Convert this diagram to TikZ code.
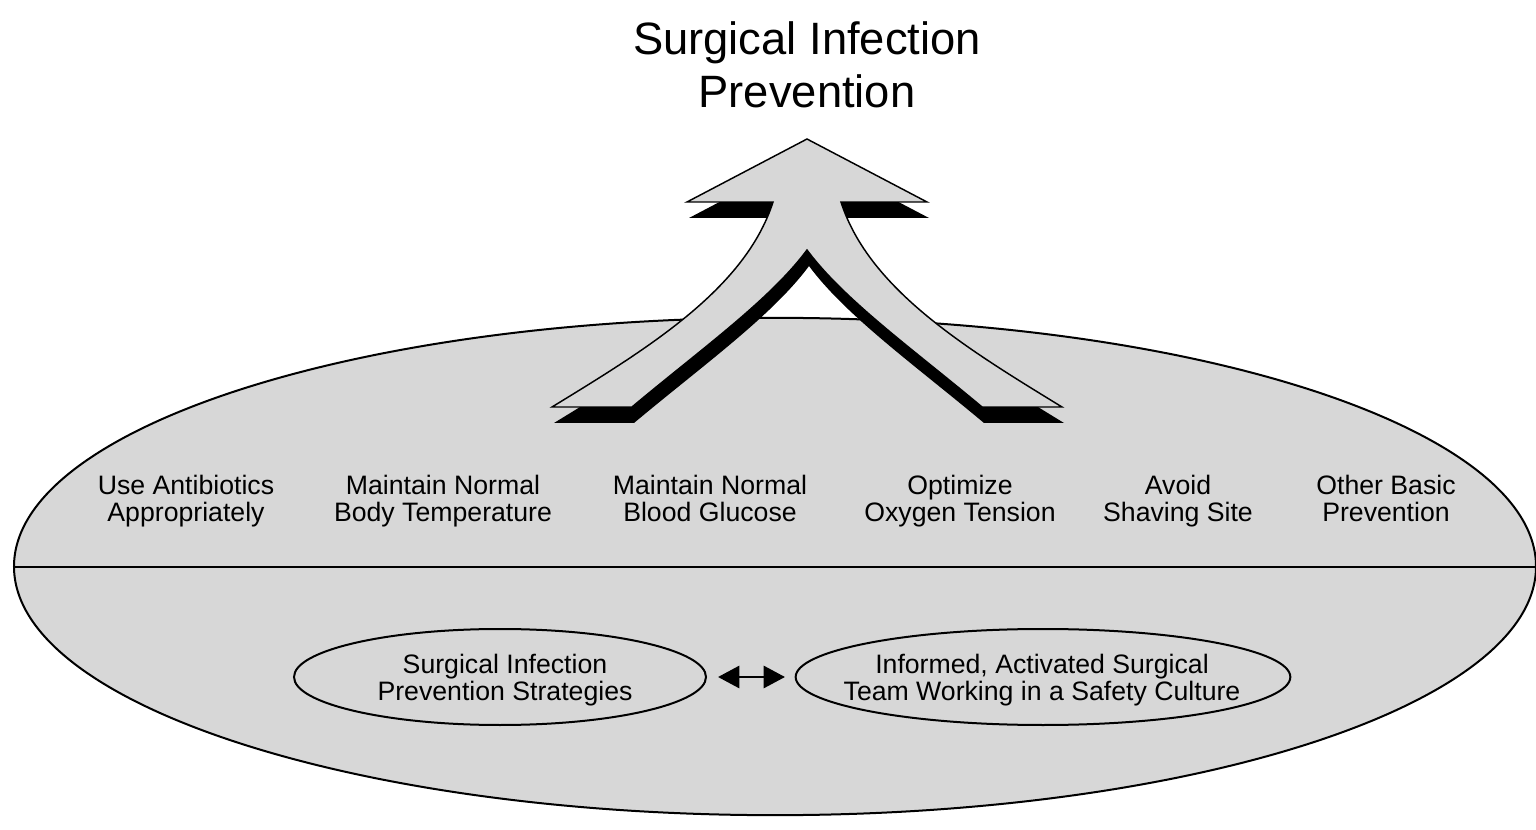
\documentclass[tikz,border=0pt]{standalone}
\usepackage{fontspec}
\setmainfont{Liberation Sans}
\usetikzlibrary{shapes.geometric, arrows.meta, positioning, shadows}

\definecolor{basegray}{HTML}{D7D7D7}

\begin{document}
\begin{tikzpicture}[
    x=0.75pt, y=-0.75pt,
    oval/.style={ellipse, draw=black, line width=1.5pt, fill=basegray, inner sep=0pt, outer sep=0pt},
    title/.style={align=center, font=\fontsize{34}{40}\selectfont},
    label_text/.style={align=center, font=\fontsize{20}{20.25}\selectfont,
        execute at begin node=\strut, execute at end node=\strut},
    chevron/.style={draw=black, line width=1.1pt, fill=basegray, line join=miter,
        drop shadow={shadow xshift=1.5pt, shadow yshift=-12pt, fill=black, opacity=1}},
    link/.style={{Triangle[length=16pt, width=16.5pt]}-{Triangle[length=16pt, width=16.5pt]}, line width=2.2pt}
]
\useasboundingbox (0,0) rectangle (1536,830);

% --- Title ---
\node[title] (title) at (807,65) {Surgical Infection\\Prevention};

% --- Base ellipse ---
\node[oval, minimum width=1141.5pt, minimum height=373pt] (base) at (775,566.5) {};
\draw[line width=1.5pt] (base.west) -- (base.east);

% --- Chevron arrow ---
\path[chevron] (807,139) -- (687,202) -- (773,202)
    .. controls (745,290) and (645,350) .. (552,407) -- (632,407)
    .. controls (700,350) and (770,300) .. (807,250)
    .. controls (844,300) and (914,350) .. (982,407) -- (1062,407)
    .. controls (969,350) and (869,290) .. (841,202) -- (927,202) -- cycle;

% --- Practices ---
\node[label_text] (lbl_antibiotics) at (186,502) {Use Antibiotics\\Appropriately};
\node[label_text] (lbl_temp) at (443,502) {Maintain Normal\\Body Temperature};
\node[label_text] (lbl_glucose) at (710,502) {Maintain Normal\\Blood Glucose};
\node[label_text] (lbl_oxygen) at (960,502) {Optimize\\Oxygen Tension};
\node[label_text] (lbl_shaving) at (1178,502) {Avoid\\Shaving Site};
\node[label_text] (lbl_other) at (1386,502) {Other Basic\\Prevention};

% --- Foundation ---
\node[oval, minimum width=309pt, minimum height=72pt] (strat) at (500,677) {};
\node[label_text] (strat_text) at (505,681) {Surgical Infection\\Prevention Strategies};
\node[oval, minimum width=371pt, minimum height=72pt] (team) at (1043,677) {};
\node[label_text] (team_text) at (1042,681) {Informed, Activated Surgical\\Team Working in a Safety Culture};

\draw[link, shorten <=9pt, shorten >=8pt] (strat.east) -- (team.west);

\end{tikzpicture}
\end{document}
